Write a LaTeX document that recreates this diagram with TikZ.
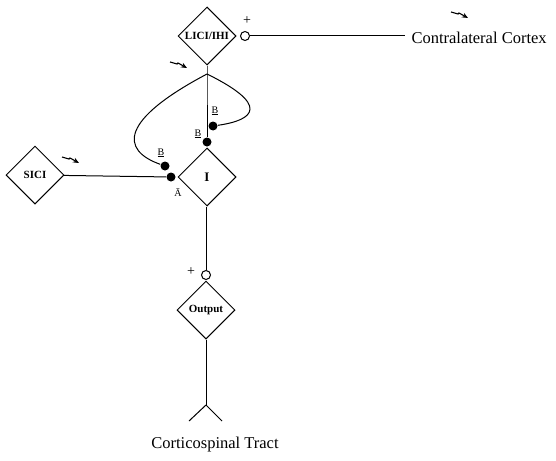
\documentclass[tikz,border=0pt]{standalone}
\usepackage{fontspec}
\setmainfont{Liberation Serif}
\usetikzlibrary{arrows.meta,shapes.geometric}
\tikzset{
  cell/.style={draw, diamond, minimum width=58pt, minimum height=58pt,
    inner sep=0pt, font=\fontsize{11}{12}\selectfont\bfseries},
  syn/.style={circle, fill=black, inner sep=0pt, minimum size=9pt},
  exc/.style={circle, draw, fill=white, inner sep=0pt, minimum size=9pt},
  lbl/.style={inner sep=0pt, font=\fontsize{10}{11}\selectfont},
  sign/.style={inner sep=0pt, font=\fontsize{14}{14}\selectfont},
  zap/.style={-{Stealth[length=6pt,width=5pt]}, line width=1.1pt}
}

\begin{document}
\begin{tikzpicture}[x=1pt, y=-1pt, line width=1pt]
  \useasboundingbox (0,0) rectangle (556,460);

  % cells
  \node[cell] (lici) at (207,36) {LICI/IHI};
  \node[cell] (sici) at (35,175) {SICI};
  \node[cell, font=\fontsize{13}{14}\selectfont\bfseries] (inter) at (207,177) {I};
  \node[cell] (output) at (206,310) {Output};

  % excitatory inputs
  \node[exc] (ccin) at (245,36) {};
  \node[exc] (outin) at (206,275) {};
  \node[sign] (ccplus) at (247,21) {+};
  \node[sign] (outplus) at (191,272) {+};

  % inhibitory synapses
  \node[syn] (dotB) at (207,142) {};
  \node[syn] (dotR) at (213,126) {};
  \node[syn] (dotL) at (165,166) {};
  \node[syn] (dotA) at (171,177) {};

  % synapse labels
  \node[lbl] (labR) at (215,111) {\underline{B}};
  \node[lbl] (labB) at (198,134) {\underline{B}};
  \node[lbl] (labL) at (161,153) {\underline{B}};
  \node[lbl] (labA) at (178,193) {\={A}};

  % far ends
  \coordinate (split) at (207,74);
  \coordinate (ccend) at (405,36);
  \coordinate (fork) at (206,405);
  \coordinate (tractL) at (189,421);
  \coordinate (tractR) at (222,421);
  \node[anchor=west, inner sep=0pt, font=\fontsize{16.5}{18}\selectfont]
    (cortex) at (411,38) {Contralateral Cortex};
  \node[inner sep=0pt, font=\fontsize{16.5}{18}\selectfont]
    (tract) at (215,445) {Corticospinal Tract};

  % connections
  \draw (ccin) -- (ccend);
  \draw (lici) -- (split) -- (dotB);
  \draw (split) .. controls (120,120) and (120,150) .. (dotL);
  \draw (split) .. controls (270,105) and (255,120) .. (dotR);
  \draw (sici) -- (dotA);
  \draw (inter.south -| outin) -- (outin);
  \draw (output) -- (fork);
  \draw (fork) -- (tractL);
  \draw (fork) -- (tractR);

  % stimulation marks
  \foreach \x/\y in {451/12, 170/62, 62/157}
    \draw[zap] (\x,\y) -- ++(7,2) -- ++(1,-1) -- ++(9,5);
\end{tikzpicture}
\end{document}
